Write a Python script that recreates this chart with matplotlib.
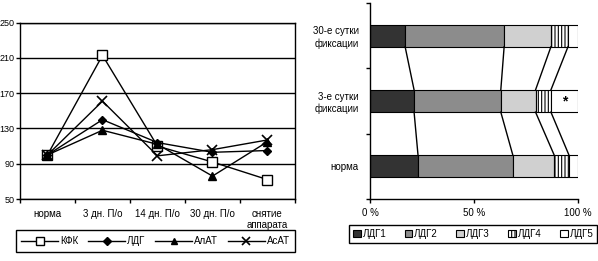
import matplotlib
matplotlib.use('Agg')
import matplotlib.pyplot as plt
from matplotlib.patches import Patch
import numpy as np

plt.rcParams['font.family'] = ['Liberation Sans', 'DejaVu Sans']
plt.rcParams['font.size'] = 7
plt.rcParams['hatch.linewidth'] = 0.8

# left chart data
periods = ['норма', '3 дн. П/о', '14 дн. П/о', '30 дн. П/о', 'снятие\nаппарата']
kfk = [100, 213, 110, 92, 72]
ldg = [100, 140, 114, 103, 105]
alat = [100, 128, 112, 76, 115]
asat = [100, 161, 99, 106, 117]

# right chart data (percent of total LDH)
groups = ['норма', '3-е сутки\nфиксации', '30-е сутки\nфиксации']
ldg1 = [23.1, 21.2, 16.9]
ldg2 = [45.6, 41.7, 47.6]
ldg3 = [19.9, 16.7, 22.5]
ldg4 = [7.1, 7.4, 8.2]
ldg5 = [4.3, 13.0, 4.8]
iso_names = ['ЛДГ1', 'ЛДГ2', 'ЛДГ3', 'ЛДГ4', 'ЛДГ5']

fig = plt.figure(figsize=(5.98, 2.61), dpi=100)

# ---- line chart ----
ax = fig.add_axes([0.0334, 0.2375, 0.4599, 0.6755])
x = np.arange(len(periods))
styles = [('КФК', kfk, dict(marker='s', mfc='white', ms=7)),
          ('ЛДГ', ldg, dict(marker='D', mfc='black', ms=4.5)),
          ('АлАТ', alat, dict(marker='^', mfc='black', ms=5.5)),
          ('АсАТ', asat, dict(marker='x', mfc='black', ms=6.5, mew=1.2))]
handles = []
for name, vals, kw in styles:
    ln, = ax.plot(x, vals, color='black', lw=1, mec='black', label=name, **kw)
    handles.append(ln)

ax.set_xlim(-0.5, len(periods) - 0.5)
ax.set_ylim(50, 250)
ax.set_yticks([50, 90, 130, 170, 210, 250])
ax.yaxis.grid(True, color='black', lw=1)
ax.set_axisbelow(True)
ax.set_xticks(x)
ax.set_xticklabels(periods, fontsize=7)
ax.set_xticks(np.arange(len(periods) + 1) - 0.5, minor=True)
ax.tick_params(axis='x', which='major', length=0, pad=7)
ax.tick_params(axis='x', which='minor', length=3, width=1)
ax.tick_params(axis='y', length=3, width=1, pad=1, labelsize=6.5)
for s in ax.spines.values():
    s.set_linewidth(1)
    s.set_color('black')

leg = fig.legend(handles=handles, loc='center', ncol=4,
                 bbox_to_anchor=(0.26, 0.077), fancybox=False,
                 edgecolor='black', fontsize=7, handlelength=3.8, borderaxespad=0,
                 framealpha=1, handletextpad=0.2, columnspacing=1.0,
                 borderpad=0.6, markerscale=0.8)
leg.get_frame().set_linewidth(1)

# ---- stacked bar chart ----
bx = fig.add_axes([0.6187, 0.2375, 0.3478, 0.751])
data = np.array([ldg1, ldg2, ldg3, ldg4, ldg5])
colors = ['#333333', '#8c8c8c', '#d0d0d0', 'white', 'white']
hatches = [None, None, None, '|||||', None]
y = np.arange(len(groups))
h = 0.34
left = np.zeros(len(groups))
for i in range(5):
    bx.barh(y, data[i], h, left=left, color=colors[i], edgecolor='black',
            lw=0.8, hatch=hatches[i])
    left += data[i]

# series lines between stacked segment edges
cum = np.cumsum(data, axis=0)
for k in range(4):
    for j in range(len(groups) - 1):
        bx.plot([cum[k][j], cum[k][j + 1]], [y[j] + h / 2, y[j + 1] - h / 2],
                color='black', lw=1)

bx.text(93.5, 1, '*', ha='center', va='center', fontsize=10, fontweight='bold')

bx.set_xlim(0, 100)
bx.set_ylim(-0.5, 2.5)
bx.set_xticks([0, 50, 100])
bx.set_xticklabels(['0 %', '50 %', '100 %'], fontsize=7)
bx.set_yticks(y)
bx.set_yticklabels(groups, fontsize=7)
bx.set_yticks([-0.5, 0.5, 1.5, 2.5], minor=True)
bx.tick_params(axis='y', which='major', length=0, pad=8)
bx.tick_params(axis='y', which='minor', length=3, width=1)
bx.tick_params(axis='x', length=3, width=1)
bx.spines['top'].set_visible(False)
bx.spines['right'].set_visible(False)
for s in ['left', 'bottom']:
    bx.spines[s].set_linewidth(1)

bar_handles = [Patch(facecolor=colors[i], edgecolor='black', hatch=hatches[i], lw=0.8)
               for i in range(5)]
leg2 = fig.legend(handles=bar_handles, labels=iso_names, loc='center', ncol=5, mode='expand',
                  bbox_to_anchor=(0.5836, 0.05, 0.415, 0.107), fancybox=False,
                  edgecolor='black', fontsize=7, handlelength=0.8, handleheight=0.8,
                  borderaxespad=0, framealpha=1, handletextpad=0.2)
leg2.get_frame().set_linewidth(1)

fig.savefig('out.png', dpi=100)
